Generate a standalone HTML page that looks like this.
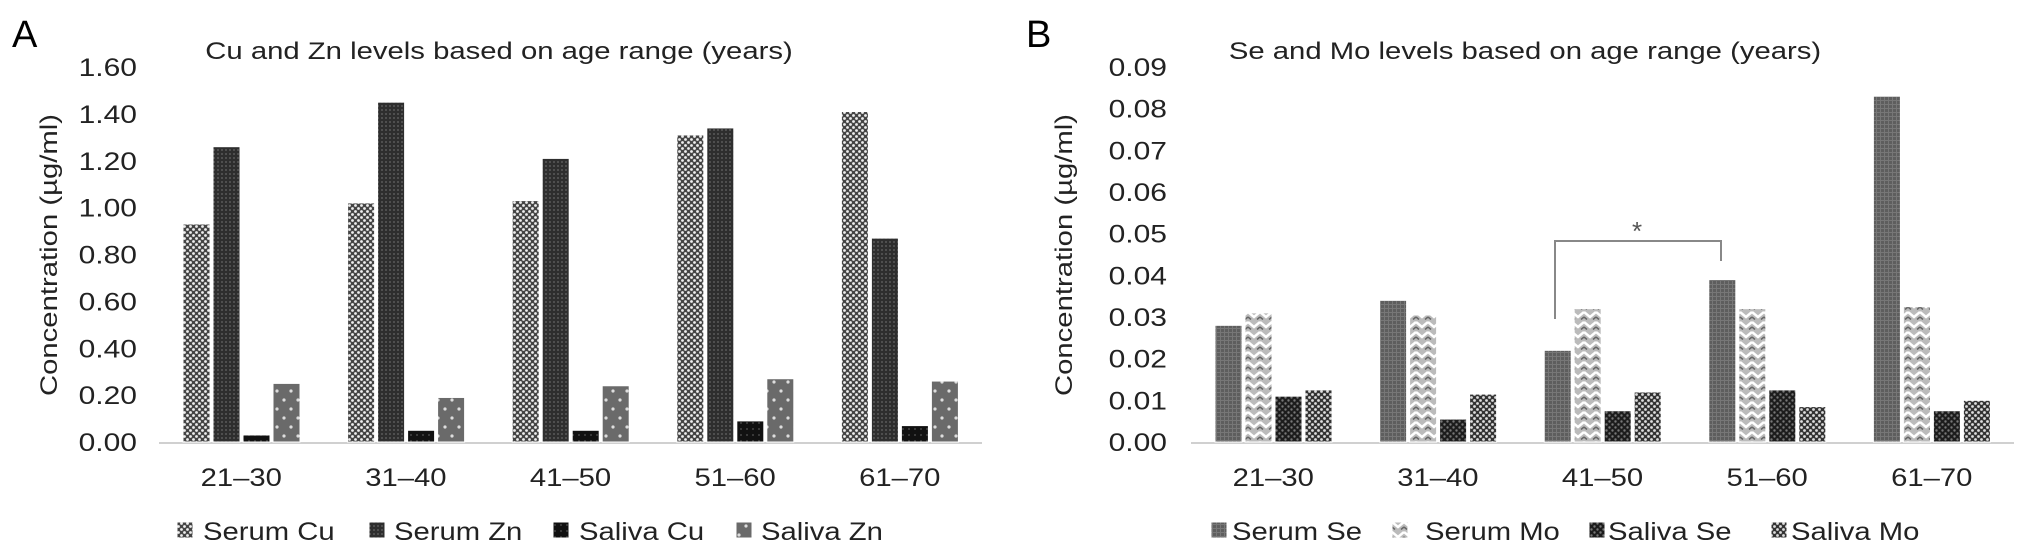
<!DOCTYPE html>
<html><head><meta charset="utf-8"><style>
body{margin:0;background:#fff;}
svg{display:block;font-family:"Liberation Sans",sans-serif;}
</style></head><body>
<svg id="svg" width="2032" height="556" viewBox="0 0 2032 556">
<defs>
<pattern id="pCheck" width="6" height="6" patternUnits="userSpaceOnUse"><rect width="6" height="6" fill="#444"/><circle cx="1.5" cy="1.5" r="1.4" fill="#eee"/><circle cx="4.5" cy="4.5" r="1.4" fill="#eee"/></pattern>
<pattern id="pDark" width="4" height="4" patternUnits="userSpaceOnUse"><rect width="4" height="4" fill="#2e2e2e"/><circle cx="2" cy="2" r="0.9" fill="#666"/></pattern>
<pattern id="pBlack" width="6" height="6" patternUnits="userSpaceOnUse"><rect width="6" height="6" fill="#111"/><circle cx="3" cy="3" r="1" fill="#444"/></pattern>
<pattern id="pGreyDot" width="14" height="18" patternUnits="userSpaceOnUse"><rect width="14" height="18" fill="#6a6a6a"/><circle cx="4" cy="4" r="1.6" fill="#ddd"/><circle cx="11" cy="13" r="1.6" fill="#ddd"/></pattern>
<pattern id="pGrid" width="4" height="4" patternUnits="userSpaceOnUse"><rect width="4" height="4" fill="#5e5e5e"/><rect width="4" height="1" fill="#777"/><rect width="1" height="4" fill="#777"/></pattern>
<pattern id="pZig" width="12" height="10" patternUnits="userSpaceOnUse"><rect width="12" height="10" fill="#bbb"/><path d="M0 2 L6 7 L12 2" stroke="#fff" stroke-width="2.5" fill="none"/><path d="M0 7 L3 9.5 M9 9.5 L12 7" stroke="#666" stroke-width="1.5" fill="none"/></pattern>
<pattern id="pDarkCheck" width="6" height="6" patternUnits="userSpaceOnUse"><rect width="6" height="6" fill="#1c1c1c"/><circle cx="1.5" cy="1.5" r="1.2" fill="#777"/><circle cx="4.5" cy="4.5" r="1.2" fill="#777"/></pattern>
<pattern id="pMidCheck" width="6" height="6" patternUnits="userSpaceOnUse"><rect width="6" height="6" fill="#333"/><circle cx="1.5" cy="1.5" r="1.4" fill="#ddd"/><circle cx="4.5" cy="4.5" r="1.4" fill="#ddd"/></pattern>
</defs>
<g id="chartA"></g>
<g id="chartB"></g>
</svg>
<script>
const categories = ["21–30","31–40","41–50","51–60","61–70"];
const seriesNamesA = ["Serum Cu","Serum Zn","Saliva Cu","Saliva Zn"];
const serumCu = [0.93,1.02,1.03,1.31,1.41];
const serumZn = [1.26,1.45,1.21,1.34,0.87];
const salivaCu = [0.03,0.05,0.05,0.09,0.07];
const salivaZn = [0.25,0.19,0.24,0.27,0.26];
const ticksA = ["0.00","0.20","0.40","0.60","0.80","1.00","1.20","1.40","1.60"];
const seriesNamesB = ["Serum Se","Serum Mo","Saliva Se","Saliva Mo"];
const serumSe = [0.028,0.034,0.022,0.039,0.083];
const serumMo = [0.031,0.0305,0.032,0.032,0.0325];
const salivaSe = [0.011,0.0055,0.0075,0.0125,0.0075];
const salivaMo = [0.0125,0.0115,0.012,0.0085,0.010];
const ticksB = ["0.00","0.01","0.02","0.03","0.04","0.05","0.06","0.07","0.08","0.09"];

const NS="http://www.w3.org/2000/svg";
function mk(parent,tag,attrs,text){const e=document.createElementNS(NS,tag);for(const k in attrs)e.setAttribute(k,attrs[k]);if(text!=null)e.textContent=text;parent.appendChild(e);return e;}
function txt(parent,x,y,str,size,anchor,sx,rot){
  return mk(parent,"text",{x:0,y:0,"font-size":size,"text-anchor":anchor,fill:"#222",transform:`translate(${x},${y}) rotate(${rot||0}) scale(${sx},1)`},str);
}

function drawChart(g,cfg){
  const y0=442,y1=67;
  const yScale=v=>y0-(v/cfg.max)*(y0-y1);
  const gw=(cfg.axisEnd-cfg.axisStart)/categories.length;
  const xBand=i=>cfg.axisStart+i*gw;
  let t=mk(g,"text",{x:cfg.letterX,y:47,"font-size":38});
  t.textContent=cfg.letter;
  
  
  t=txt(g,cfg.titleX,59,cfg.title,24,"middle",1.22);
  
  
  t=txt(g,cfg.yTitleX,255,"Concentration (µg/ml)",24,"middle",1.22,-90);
  
  
  cfg.ticks.forEach(lbl=>{
    const e=txt(g,cfg.tickX,yScale(parseFloat(lbl))+9,lbl,25,"end",1.2);
    
    
  });
  const base=mk(g,"line",{x1:cfg.axisStart,x2:cfg.axisEnd,y1:y0+1,y2:y0+1,stroke:"#d0d0d0","stroke-width":2});
  
  
  categories.forEach((c,i)=>{
    const e=txt(g,xBand(i)+gw/2,486,c,25,"middle",1.17);
    
    
    cfg.series.forEach((s,j)=>{
      const v=s[i];const x=xBand(i)+24+j*30;const yy=yScale(v);
      const r=mk(g,"rect",{x:x,y:yy,width:27,height:y0-yy,fill:cfg.fills[j],stroke:"#fff","stroke-width":1});
      
      
    });
  });
  cfg.names.forEach((n,j)=>{
    const lg=mk(g,"g",{});
    
    
    mk(lg,"rect",{x:cfg.legendX[j],y:522,width:16,height:16,fill:cfg.fills[j],stroke:"#fff"});
    txt(lg,cfg.legendX[j]+cfg.legendGap[j],540,n,25,"start",1.17);
  });
}
drawChart(document.getElementById('chartA'),{letter:"A",letterX:12,title:"Cu and Zn levels based on age range (years)",titleX:499,yTitleX:57,tickX:137,max:1.6,ticks:ticksA,axisStart:159,axisEnd:982,series:[serumCu,serumZn,salivaCu,salivaZn],names:seriesNamesA,fills:["url(#pCheck)","url(#pDark)","url(#pBlack)","url(#pGreyDot)"],legendX:[177,369,553,736],legendGap:[26,25,26,25]});
drawChart(document.getElementById('chartB'),{letter:"B",letterX:1026,title:"Se and Mo levels based on age range (years)",titleX:1525,yTitleX:1072,tickX:1167,max:0.09,ticks:ticksB,axisStart:1191,axisEnd:2014,series:[serumSe,serumMo,salivaSe,salivaMo],names:seriesNamesB,fills:["url(#pGrid)","url(#pZig)","url(#pDarkCheck)","url(#pMidCheck)"],legendX:[1211,1392,1589,1771],legendGap:[21,33,19,20]});
const gb=document.getElementById('chartB');
const br=mk(gb,"path",{d:"M1555 319 L1555 241 L1721 241 L1721 261",stroke:"#888","stroke-width":2,fill:"none"});


const st=mk(gb,"text",{x:1637,y:240,"font-size":26,"text-anchor":"middle",fill:"#555"},"*");


</script>
</body></html>
